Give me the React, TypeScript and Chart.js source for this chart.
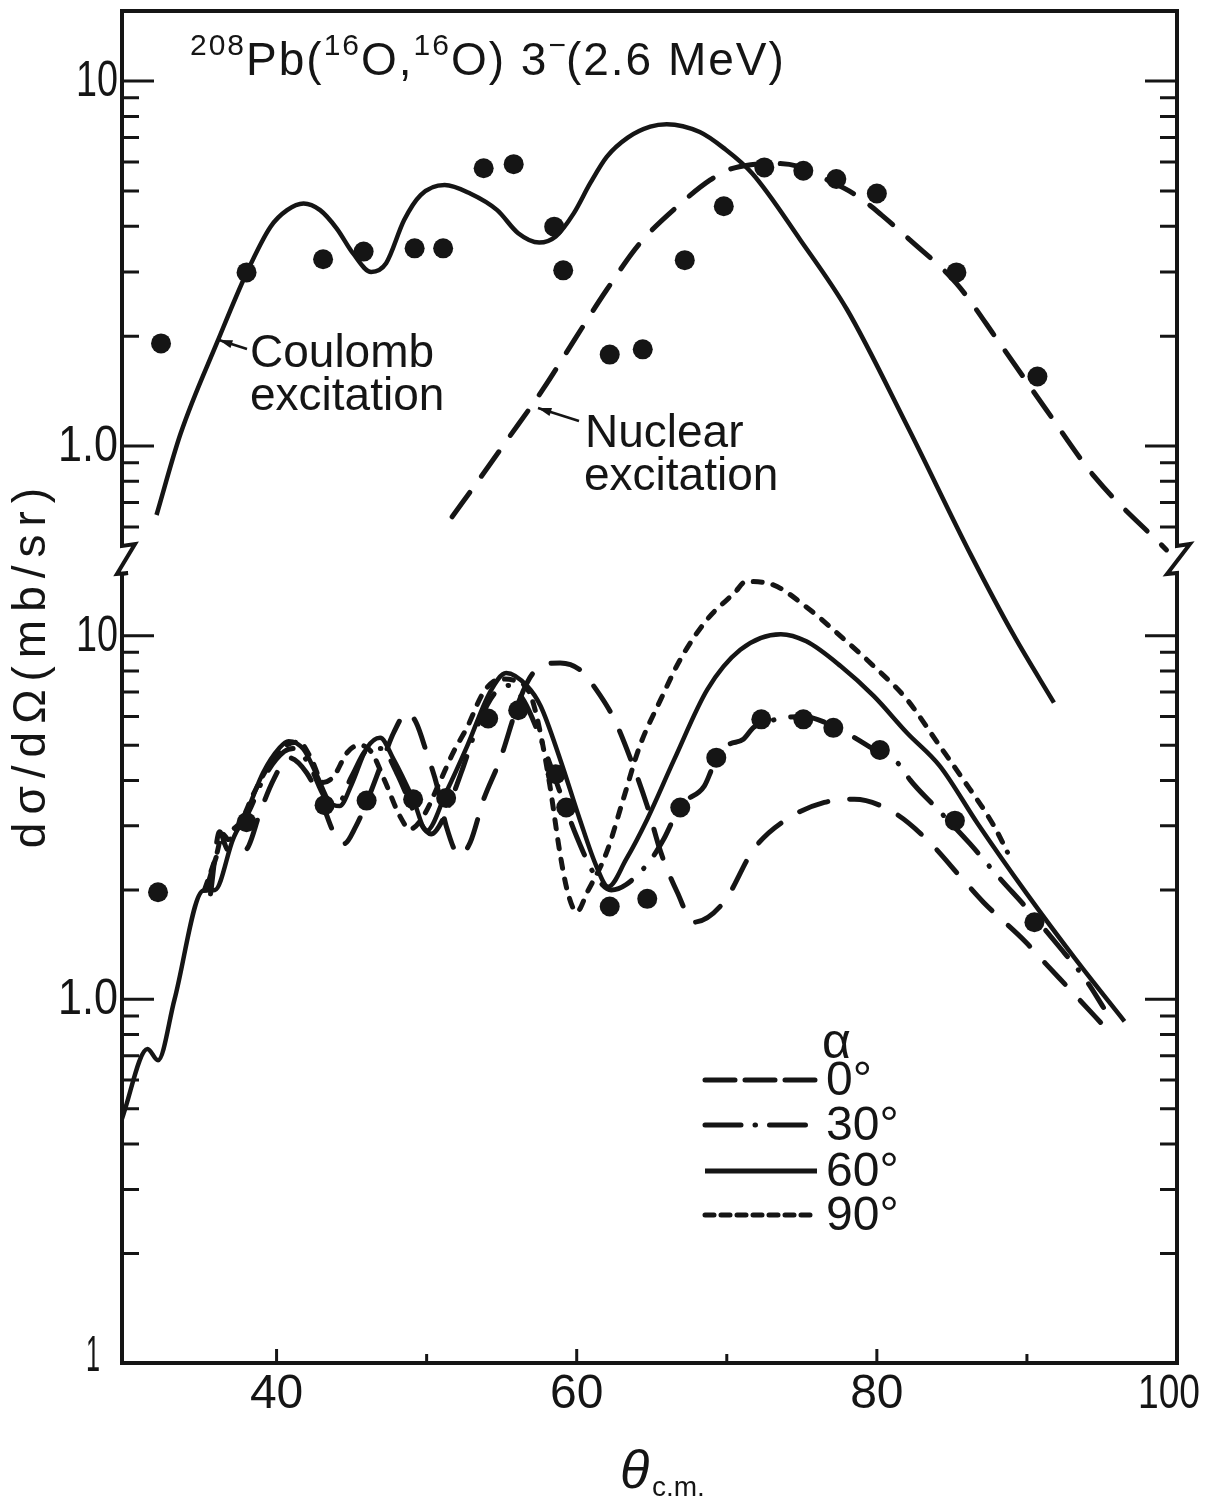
import React, { useEffect, useRef } from "react";
import { Chart, registerables } from "chart.js";

Chart.register(...registerables);

// ---------------- data ----------------
// axis ticks
const xMajorTicks = [40, 60, 80, 100];
const xMinorTicks = [50, 70, 90];
const xTickText = ["40", "60", "80", "100"];
const upperTickValues = [10, 1];
const upperTickText = ["10", "1.0"];
const lowerTickValues = [10, 1, 0.1];
const lowerTickText = ["10", "1.0", "1"];

// experimental points, upper panel
const dataUpperTheta = [32.3, 38.0, 43.1, 45.8, 49.2, 51.1, 53.8, 55.8, 58.5, 59.1, 62.2, 64.4, 67.2, 69.8, 72.5, 75.1, 77.3, 80.0, 85.3, 90.7];
const dataUpperSigma = [1.91, 2.99, 3.25, 3.41, 3.48, 3.48, 5.77, 5.92, 3.99, 3.03, 1.78, 1.84, 3.23, 4.54, 5.8, 5.68, 5.39, 4.92, 2.99, 1.55];

// experimental points, lower panel
const dataLowerTheta = [32.1, 38.0, 43.2, 46.0, 49.1, 51.3, 54.1, 56.1, 58.6, 59.3, 62.2, 64.7, 66.9, 69.3, 72.3, 75.1, 77.1, 80.2, 85.2, 90.5];
const dataLowerSigma = [1.97, 3.07, 3.42, 3.52, 3.55, 3.58, 5.92, 6.24, 4.16, 3.37, 1.8, 1.89, 3.37, 4.62, 5.89, 5.89, 5.58, 4.85, 3.1, 1.63];

// Coulomb excitation (upper, solid)
const coulombTheta = [32.0, 33.6, 36.1, 38.0, 39.6, 40.7, 41.8, 42.9, 44.0, 45.1, 46.3, 47.3, 48.5, 49.6, 51.2, 52.9, 54.7, 56.1, 57.5, 58.6, 59.8, 60.9, 62.0, 63.4, 64.9, 66.0, 68.2, 69.8, 71.7, 74.9, 78.0, 82.0, 86.3, 89.1, 91.8];
const coulombSigma = [0.647, 1.08, 1.95, 2.98, 3.99, 4.43, 4.62, 4.43, 3.95, 3.37, 3.0, 3.17, 4.16, 4.87, 5.19, 4.92, 4.43, 3.83, 3.61, 3.75, 4.34, 5.25, 6.2, 7.0, 7.5, 7.62, 7.25, 6.55, 5.58, 3.67, 2.37, 1.14, 0.5, 0.304, 0.198];

// Nuclear excitation (upper, dashed)
const nuclearTheta = [51.7, 53.5, 55.3, 57.8, 59.9, 62.0, 64.2, 66.8, 68.9, 70.2, 71.6, 73.1, 74.7, 76.7, 78.6, 80.3, 82.2, 85.3, 88.2, 91.3, 94.5, 99.3];
const nuclearSigma = [0.64, 0.81, 1.03, 1.44, 1.97, 2.68, 3.59, 4.57, 5.36, 5.73, 5.9, 5.95, 5.85, 5.36, 4.87, 4.3, 3.67, 2.79, 1.91, 1.255, 0.824, 0.519];

// alpha = 0 deg (long dash)
const alpha0Theta = [35.6, 36.2, 36.7, 37.3, 38.0, 38.9, 39.8, 40.8, 42.0, 43.1, 43.8, 44.5, 45.3, 46.0, 47.1, 47.8, 48.7, 49.3, 50.0, 50.7, 51.3, 52.2, 52.9, 53.8, 54.9, 56.2, 57.1, 58.9, 60.2, 61.3, 62.5, 63.6, 64.7, 65.6, 66.7, 67.8, 69.8, 71.8, 74.0, 76.5, 78.5, 81.1, 83.3, 85.8, 87.1, 89.9, 91.2, 93.0, 95.3];
const alpha0Sigma = [1.95, 2.89, 2.59, 2.54, 2.59, 3.27, 4.02, 4.62, 4.2, 3.4, 2.88, 2.68, 3.0, 3.48, 4.57, 5.41, 6.14, 5.77, 4.77, 3.86, 3.0, 2.49, 2.7, 3.55, 4.57, 6.68, 7.9, 8.42, 8.07, 7.11, 5.89, 4.57, 3.4, 2.54, 1.97, 1.63, 1.85, 2.59, 3.13, 3.48, 3.55, 3.27, 2.76, 2.12, 1.85, 1.44, 1.26, 1.05, 0.83];

// alpha = 30 deg (dash-dot)
const alpha30Theta = [35.3, 36.2, 37.0, 38.0, 39.2, 40.5, 41.2, 42.2, 43.2, 44.0, 45.0, 46.2, 47.0, 48.0, 49.3, 50.3, 51.2, 52.3, 53.5, 54.6, 55.5, 56.5, 57.6, 58.8, 60.0, 61.2, 62.3, 63.3, 64.9, 65.8, 66.9, 68.5, 69.1, 70.0, 71.1, 71.8, 73.0, 75.1, 77.1, 79.8, 81.6, 82.2, 84.0, 86.2, 88.2, 90.0, 92.0, 94.0, 95.1];
const alpha30Sigma = [2.0, 2.6, 2.9, 3.2, 4.1, 4.8, 4.9, 4.4, 3.6, 3.4, 4.1, 4.9, 4.9, 4.2, 3.2, 2.85, 3.2, 4.2, 5.8, 7.0, 7.3, 6.6, 5.2, 3.8, 2.8, 2.2, 2.0, 2.07, 2.41, 2.76, 3.4, 3.86, 4.38, 4.97, 5.19, 5.6, 5.85, 6.0, 5.64, 4.87, 4.38, 4.02, 3.35, 2.68, 2.15, 1.78, 1.42, 1.12, 0.95];

// alpha = 60 deg (solid)
const alpha60Theta = [29.7, 31.4, 32.1, 33.2, 35.1, 35.9, 37.1, 38.0, 39.1, 40.2, 40.8, 41.8, 42.7, 43.5, 44.2, 45.0, 46.0, 46.9, 47.8, 49.1, 50.0, 51.3, 52.7, 54.2, 55.3, 56.7, 57.6, 58.9, 60.2, 61.3, 62.1, 63.3, 64.7, 66.5, 68.7, 70.9, 73.6, 75.3, 77.6, 79.8, 82.0, 84.2, 86.7, 90.0, 93.3, 96.5];
const alpha60Sigma = [0.47, 0.73, 0.68, 1.0, 1.99, 2.0, 2.76, 3.27, 4.2, 4.92, 5.13, 4.87, 4.12, 3.5, 3.4, 3.9, 4.9, 5.24, 4.57, 3.55, 2.91, 3.71, 4.97, 6.97, 7.9, 7.27, 6.4, 4.57, 3.13, 2.33, 2.04, 2.43, 3.13, 4.57, 7.11, 9.15, 10.1, 9.65, 8.24, 6.82, 5.41, 4.38, 3.05, 1.95, 1.28, 0.87];

// alpha = 90 deg (short dash)
const alpha90Theta = [35.2, 36.0, 36.4, 36.8, 37.5, 38.5, 39.5, 40.5, 41.5, 42.3, 43.1, 43.8, 44.7, 45.5, 46.3, 47.2, 48.2, 48.9, 49.8, 50.8, 51.8, 52.7, 53.8, 54.9, 56.0, 56.9, 57.5, 58.2, 58.9, 59.4, 60.0, 60.7, 62.0, 63.1, 64.2, 65.6, 66.9, 68.7, 70.5, 71.3, 73.1, 75.3, 77.6, 79.8, 82.0, 84.2, 85.6, 87.8, 88.7];
const alpha90Sigma = [2.0, 2.5, 2.85, 2.75, 3.0, 3.7, 4.4, 4.95, 5.1, 4.6, 3.95, 4.1, 4.77, 5.0, 4.8, 4.0, 3.2, 2.94, 3.2, 3.9, 4.8, 5.6, 7.0, 7.6, 7.5, 6.9, 5.6, 3.9, 2.5, 1.97, 1.74, 1.97, 2.54, 3.55, 4.97, 6.68, 8.6, 11.1, 13.1, 14.1, 13.8, 12.0, 9.96, 8.24, 6.68, 4.97, 4.11, 3.0, 2.54];

const legendLabels = ["0°", "30°", "60°", "90°"];

// ---------------- styling ----------------
const INK = "#151515";
const FONT = '"Liberation Sans", Arial, sans-serif';
const DASH_LONG = [30, 22];
const DASH_DOT = [34, 17, 0.5, 17];
const DASH_SHORT = [9, 11];
const DASH_NUCLEAR = [30, 20];
const LEG_DASH = [[30, 10], [36, 14, 0.5, 14], [], [9, 7]];

const pts = (xs: number[], ys: number[]) => xs.map((x, i) => ({ x, y: ys[i] }));

function curve(xs: number[], ys: number[], axis: string, dash: number[], width: number, extra: any = {}) {
  return {
    data: pts(xs, ys),
    yAxisID: axis,
    showLine: true,
    borderColor: INK,
    borderWidth: width,
    borderDash: dash,
    borderCapStyle: dash.length ? "round" : "butt",
    borderJoinStyle: "round",
    pointRadius: 0,
    fill: false,
    cubicInterpolationMode: "monotone",
    ...extra,
  };
}

function dots(xs: number[], ys: number[], axis: string) {
  return {
    data: pts(xs, ys),
    yAxisID: axis,
    showLine: false,
    pointRadius: 10,
    pointBackgroundColor: INK,
    pointBorderWidth: 0,
    pointBorderColor: INK,
  };
}

function text(ctx: CanvasRenderingContext2D, s: string, x: number, y: number, size: number, align: CanvasTextAlign = "left", baseline: CanvasTextBaseline = "alphabetic", style = "", maxW?: number) {
  ctx.font = `${style} ${size}px ${FONT}`;
  ctx.textAlign = align;
  ctx.textBaseline = baseline;
  if (maxW) ctx.fillText(s, x, y, maxW);
  else ctx.fillText(s, x, y);
}

const paperPlugin = {
  id: "paper",
  beforeDraw(chart: any) {
    const { ctx, width, height } = chart;
    ctx.save();
    ctx.fillStyle = "#ffffff";
    ctx.fillRect(0, 0, width, height);
    ctx.restore();
  },
  afterDraw(chart: any) {
    const ctx: CanvasRenderingContext2D = chart.ctx;
    const { left: L, right: R, top: T, bottom: B } = chart.chartArea;
    const xs = chart.scales.x;
    const yU = chart.scales.yU;
    const yL = chart.scales.yL;
    const yb = yU.bottom;
    ctx.save();
    ctx.strokeStyle = INK;
    ctx.fillStyle = INK;
    ctx.setLineDash([]);
    ctx.lineCap = "butt";
    ctx.lineJoin = "miter";

    // frame with axis breaks
    ctx.lineWidth = 4;
    ctx.beginPath();
    ctx.moveTo(L, B);
    ctx.lineTo(L, yb + 12);
    ctx.lineTo(L + 6, yb + 11);
    ctx.lineTo(L - 5, yb + 12);
    ctx.lineTo(L + 13, yb - 18);
    ctx.lineTo(L, yb - 16);
    ctx.lineTo(L, T);
    ctx.lineTo(R, T);
    ctx.lineTo(R, yb - 16);
    ctx.lineTo(R + 13, yb - 18);
    ctx.lineTo(R - 10, yb + 12);
    ctx.lineTo(R, yb + 11);
    ctx.lineTo(R, B);
    ctx.closePath();
    ctx.stroke();

    // y ticks (inward, both sides)
    ctx.lineWidth = 3;
    const yTicks = (sc: any) => {
      for (let e = -1; e <= 1; e++) {
        for (let m = 1; m <= 9; m++) {
          const v = m * Math.pow(10, e);
          if (v < sc.min * 0.999 || v > sc.max) continue;
          const y = sc.getPixelForValue(v);
          if (Math.abs(y - yb) < 20 || y > B - 2 || y < T + 2) continue;
          const len = m === 1 ? 32 : 17;
          ctx.beginPath();
          ctx.moveTo(L, y);
          ctx.lineTo(L + len, y);
          ctx.moveTo(R, y);
          ctx.lineTo(R - len, y);
          ctx.stroke();
        }
      }
    };
    yTicks(yU);
    yTicks(yL);

    // x ticks (inward at bottom)
    xMajorTicks.forEach((v) => {
      if (v >= 100) return;
      const x = xs.getPixelForValue(v);
      ctx.beginPath();
      ctx.moveTo(x, B);
      ctx.lineTo(x, B - 14);
      ctx.stroke();
    });
    xMinorTicks.forEach((v) => {
      const x = xs.getPixelForValue(v);
      ctx.beginPath();
      ctx.moveTo(x, B);
      ctx.lineTo(x, B - 9);
      ctx.stroke();
    });

    // tick labels
    const yLab = (s: string) => (s === "10" ? 42 : s === "1.0" ? 60 : 14);
    upperTickValues.forEach((v, i) => text(ctx, upperTickText[i], L - 4, yU.getPixelForValue(v) + 1, 50, "right", "middle", "", yLab(upperTickText[i])));
    lowerTickValues.forEach((v, i) => {
      const small = v < 0.5;
      text(ctx, lowerTickText[i], L - (small ? 22 : 4), yL.getPixelForValue(v) - (small ? 6 : -1), 50, "right", "middle", "", yLab(lowerTickText[i]));
    });
    xMajorTicks.forEach((v, i) => {
      const s = xTickText[i];
      const x = xs.getPixelForValue(v) - (v === 100 ? 8 : 0);
      text(ctx, s, x, B + 32, 48, "center", "middle", "", v === 100 ? 62 : 60);
    });

    // axis titles
    ctx.save();
    ctx.translate(32, 668);
    ctx.rotate(-Math.PI / 2);
    (ctx as any).letterSpacing = "8px";
    text(ctx, "dσ/dΩ(mb/sr)", 4, 0, 46, "center", "middle");
    ctx.restore();
    text(ctx, "θ", 620, 1488, 54, "left", "alphabetic", "italic");
    text(ctx, "c.m.", 652, 1496, 28, "left", "alphabetic");

    // title
    const tb = 75;
    const parts = [
      { t: "208", sup: true },
      { t: "Pb(", sup: false },
      { t: "16", sup: true },
      { t: "O,", sup: false },
      { t: "16", sup: true },
      { t: "O) 3", sup: false },
      { t: "−", sup: true },
      { t: "(2.6 MeV)", sup: false },
    ];
    let tx = 190;
    ctx.save();
    (ctx as any).letterSpacing = "2px";
    parts.forEach((p) => {
      const size = p.sup ? 30 : 46;
      text(ctx, p.t, tx, p.sup ? tb - 20 : tb, size);
      tx += ctx.measureText(p.t).width + (p.t === "−" ? -2 : 0);
    });
    ctx.restore();

    // annotations
    text(ctx, "Coulomb", 250, 367, 46);
    text(ctx, "excitation", 250, 410, 46);
    text(ctx, "Nuclear", 585, 447, 46);
    text(ctx, "excitation", 584, 490, 46);
    const arrow = (x1: number, y1: number, x2: number, y2: number) => {
      ctx.lineWidth = 2.5;
      ctx.beginPath();
      ctx.moveTo(x1, y1);
      ctx.lineTo(x2, y2);
      ctx.stroke();
      const a = Math.atan2(y2 - y1, x2 - x1);
      ctx.beginPath();
      ctx.moveTo(x2, y2);
      ctx.lineTo(x2 - 14 * Math.cos(a - 0.3), y2 - 14 * Math.sin(a - 0.3));
      ctx.lineTo(x2 - 14 * Math.cos(a + 0.3), y2 - 14 * Math.sin(a + 0.3));
      ctx.closePath();
      ctx.fill();
    };
    arrow(247, 349, 219, 340);
    arrow(579, 421, 538, 408);

    // legend
    text(ctx, "α", 822, 1058, 50);
    const legY = [1080, 1125, 1171, 1215];
    legY.forEach((y, i) => {
      ctx.save();
      ctx.lineWidth = 5;
      ctx.lineCap = LEG_DASH[i].length ? "round" : "butt";
      ctx.setLineDash(LEG_DASH[i]);
      ctx.beginPath();
      ctx.moveTo(705, y);
      ctx.lineTo(817, y);
      ctx.stroke();
      ctx.restore();
      text(ctx, legendLabels[i], 826, y + 15, 48);
    });

    ctx.restore();
  },
};

export default function App() {
  const ref = useRef<HTMLCanvasElement>(null);
  useEffect(() => {
    if (!ref.current) return;
    const chart = new Chart(ref.current, {
      type: "scatter",
      data: {
        datasets: [
          dots(dataUpperTheta, dataUpperSigma, "yU"),
          dots(dataLowerTheta, dataLowerSigma, "yL"),
          curve(coulombTheta, coulombSigma, "yU", [], 4.5, { clip: false }),
          curve(nuclearTheta, nuclearSigma, "yU", DASH_NUCLEAR, 5),
          curve(alpha60Theta, alpha60Sigma, "yL", [], 4.5),
          curve(alpha0Theta, alpha0Sigma, "yL", DASH_LONG, 5),
          curve(alpha30Theta, alpha30Sigma, "yL", DASH_DOT, 5),
          curve(alpha90Theta, alpha90Sigma, "yL", DASH_SHORT, 5),
        ] as any,
      },
      options: {
        responsive: false,
        animation: false,
        devicePixelRatio: 1,
        layout: { padding: { left: 122, right: 30, top: 11, bottom: 138 } },
        plugins: { legend: { display: false }, tooltip: { enabled: false }, title: { display: false } },
        scales: {
          x: { type: "linear", min: 29.7, max: 100, display: false },
          yL: { type: "logarithmic", position: "left", stack: "panels", stackWeight: 801, min: 0.1, max: 15.95, display: false },
          yU: { type: "logarithmic", position: "left", stack: "panels", stackWeight: 551, min: 0.481, max: 15.56, display: false },
        },
      } as any,
      plugins: [paperPlugin],
    });
    return () => chart.destroy();
  }, []);
  return (
    <div style={{ position: "absolute", left: 0, top: 0, width: 1207, height: 1501, background: "#fff" }}>
      <canvas ref={ref} width={1207} height={1501} style={{ width: 1207, height: 1501, display: "block" }} />
    </div>
  );
}
